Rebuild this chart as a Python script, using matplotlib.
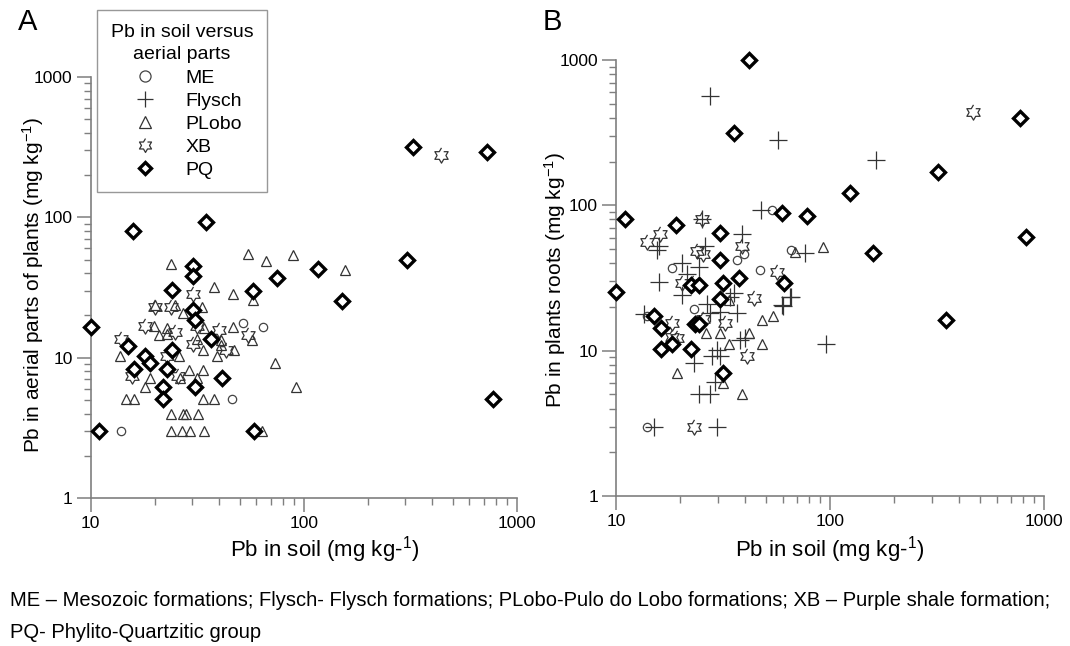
import matplotlib
matplotlib.use("Agg")
import matplotlib.pyplot as plt
from matplotlib.lines import Line2D
import numpy as np

plt.rcParams["font.family"] = ["Liberation Sans", "DejaVu Sans"]
plt.rcParams["mathtext.default"] = "regular"

# ---- Panel A: Pb in soil vs aerial parts ----
me_a_soil = [13.9, 45.9, 51.8, 64.1]
me_a_pb = [3.0, 5.1, 17.6, 16.5]

plobo_a_soil = [13.7, 14.7, 16.0, 18.0, 19.0, 19.9, 20.0, 21.0, 22.7, 22.7, 23.9, 23.9,
                23.9, 24.9, 26.0, 26.3, 26.7, 27.0, 27.2, 28.0, 29.0, 29.3, 31.4, 31.4,
                31.8, 33.2, 33.8, 33.8, 33.8, 34.1, 34.1, 37.9, 37.9, 39.0, 40.7, 40.9,
                46.7, 46.7, 47.2, 54.9, 56.9, 57.6, 63.5, 66.4, 73.4, 89.2, 92.0, 156.0]
plobo_a_pb = [10.2, 5.1, 5.1, 6.2, 7.2, 16.7, 23.9, 14.4, 16.3, 14.8, 46.5, 4.0,
              3.0, 23.9, 10.2, 7.2, 3.0, 20.8, 4.0, 4.0, 8.2, 3.0, 13.6, 7.2,
              4.0, 22.9, 8.2, 5.1, 11.4, 16.3, 3.0, 32.0, 5.1, 10.2, 12.4, 13.3,
              28.2, 16.5, 11.4, 55.0, 13.3, 25.8, 3.0, 49.0, 9.2, 54.0, 6.2, 41.8]

xb_a_soil = [13.9, 15.7, 18.0, 20.0, 22.9, 23.9, 24.9, 25.8, 30.1, 30.3, 31.4, 40.1,
             43.0, 54.9, 440.0]
xb_a_pb = [13.6, 7.4, 16.7, 22.9, 10.2, 22.9, 15.2, 7.4, 28.5, 12.6, 16.7, 15.8,
           11.4, 14.6, 280.0]

pq_a_soil = [10.0, 10.9, 15.8, 15.0, 16.0, 18.0, 19.0, 21.9, 21.9, 22.9, 24.2, 24.2,
             30.1, 30.1, 30.1, 30.9, 30.9, 34.8, 36.6, 41.2, 57.6, 58.6, 75.0, 117.0,
             152.0, 304.0, 327.0, 723.0, 777.0]
pq_a_pb = [16.5, 3.0, 80.0, 12.2, 8.3, 10.2, 9.2, 6.2, 5.1, 8.3, 30.4, 11.4,
           45.0, 38.5, 21.7, 18.6, 6.2, 92.0, 13.6, 7.2, 30.0, 3.0, 37.0, 43.0,
           25.5, 50.0, 315.0, 290.0, 5.1]

# ---- Panel B: Pb in soil vs roots ----
me_b_soil = [13.9, 13.9, 18.2, 23.2, 36.6, 39.8, 47.0, 53.4, 66.0]
me_b_pb = [3.0, 17.3, 37.0, 19.2, 42.0, 46.0, 36.0, 93.0, 49.6]

fly_b_soil = [13.5, 15.0, 15.5, 15.8, 15.9, 20.3, 20.3, 21.4, 23.2, 24.5, 24.5, 25.3,
              26.0, 26.5, 27.5, 27.5, 27.5, 28.0, 29.0, 29.5, 29.5, 30.6, 30.6, 34.0,
              35.5, 36.6, 38.0, 39.0, 40.0, 47.8, 56.9, 59.5, 60.4, 64.9, 66.0, 76.3,
              95.8, 163.5]
fly_b_pb = [17.8, 3.0, 49.0, 29.6, 52.8, 39.8, 24.0, 33.9, 8.2, 5.05, 37.9, 80.0,
            52.8, 21.1, 5.05, 18.1, 561.0, 9.2, 6.1, 10.1, 3.0, 9.2, 18.5, 23.4,
            24.8, 18.1, 11.9, 63.0, 12.2, 93.0, 282.0, 20.6, 20.2, 23.4, 23.3, 47.0,
            11.2, 205.0]

plobo_b_soil = [19.2, 26.3, 30.6, 31.5, 33.8, 33.8, 38.9, 41.9, 47.9, 47.9, 54.4, 68.6, 93.0]
plobo_b_pb = [7.07, 13.3, 13.3, 6.0, 11.1, 22.3, 5.05, 13.3, 16.2, 11.1, 17.3, 47.5, 52.0]

xb_b_soil = [14.0, 16.0, 18.2, 18.2, 19.2, 20.3, 23.0, 23.2, 24.0, 25.3, 25.4, 25.6,
             32.3, 39.0, 41.1, 44.3, 56.5, 468.0]
xb_b_pb = [56.0, 63.0, 15.6, 12.4, 12.3, 29.3, 29.3, 3.0, 48.3, 80.0, 46.5, 16.6,
           15.4, 52.8, 9.2, 22.9, 35.0, 437.0]

pq_b_soil = [10.0, 10.96, 15.0, 16.2, 16.2, 18.3, 19.1, 22.3, 22.3, 23.4, 24.5, 24.5,
             30.6, 30.6, 30.6, 31.5, 31.5, 35.5, 37.7, 41.8, 59.5, 61.2, 78.2, 124.4,
             158.0, 320.0, 347.0, 773.0, 825.0]
pq_b_pb = [25.4, 80.0, 17.3, 14.3, 10.2, 11.2, 73.0, 10.2, 28.2, 15.2, 15.2, 28.2,
           65.0, 42.0, 22.5, 29.3, 7.07, 317.0, 31.4, 1000.0, 88.0, 29.4, 84.0, 122.0,
           47.0, 170.0, 16.2, 397.0, 61.0]

group_names = ["ME", "Flysch", "PLobo", "XB", "PQ"]

# hexagram (star of David) outline used for XB
ang = np.deg2rad(90 + 30 * np.arange(12))
rad = np.where(np.arange(12) % 2 == 0, 1.0, 1 / np.sqrt(3))
hexagram = list(zip(rad * np.cos(ang), rad * np.sin(ang)))

styles = {
    "ME": dict(marker="o", ms=6, mfc="none", mec="#444444", mew=0.9),
    "Flysch": dict(marker="+", ms=13, mec="#333333", mew=0.9),
    "PLobo": dict(marker="^", ms=7, mfc="none", mec="#333333", mew=0.9),
    "XB": dict(marker=hexagram, ms=11, mfc="none", mec="#333333", mew=0.9),
    "PQ": dict(marker="D", ms=7.5, mfc="white", mec="black", mew=2.4),
}
# legend keys are drawn a little larger than the plotted marks
legend_ms = {"ME": 8, "Flysch": 11, "PLobo": 8.5, "XB": 10, "PQ": 6.5}

GRAY = "#7f7f7f"


def style_axes(ax):
    ax.set_xscale("log")
    ax.set_yscale("log")
    ax.set_xlim(10, 1000)
    ax.set_ylim(1, 1000)
    for side in ("top", "right"):
        ax.spines[side].set_visible(False)
    for side in ("left", "bottom"):
        ax.spines[side].set_color(GRAY)
        ax.spines[side].set_linewidth(1.2)
    ax.tick_params(which="major", length=10, width=1.1, color=GRAY, labelsize=12.5, pad=3)
    ax.tick_params(which="minor", length=5, width=1.0, color=GRAY)
    ax.set_xticks([10, 100, 1000])
    ax.set_xticklabels(["10", "100", "1000"])
    ax.set_yticks([1, 10, 100, 1000])
    ax.set_yticklabels(["1", "10", "100", "1000"])
    ax.set_facecolor("none")


fig = plt.figure(figsize=(10.7, 6.46), dpi=100)
axA = fig.add_axes([90.7 / 1070, 1 - 498 / 646, 426 / 1070, (498 - 77) / 646])
axB = fig.add_axes([616 / 1070, 1 - 496 / 646, 428 / 1070, (496 - 60) / 646])

for ax in (axA, axB):
    style_axes(ax)

# panel A
axA.plot(me_a_soil, me_a_pb, ls="none", zorder=3, clip_on=False, **styles["ME"])
axA.plot(plobo_a_soil, plobo_a_pb, ls="none", zorder=3, clip_on=False, **styles["PLobo"])
axA.plot(xb_a_soil, xb_a_pb, ls="none", zorder=4, clip_on=False, **styles["XB"])
axA.plot(pq_a_soil, pq_a_pb, ls="none", zorder=5, clip_on=False, **styles["PQ"])

# panel B
axB.plot(me_b_soil, me_b_pb, ls="none", zorder=3, clip_on=False, **styles["ME"])
axB.plot(fly_b_soil, fly_b_pb, ls="none", zorder=3, clip_on=False, **styles["Flysch"])
axB.plot(plobo_b_soil, plobo_b_pb, ls="none", zorder=3, clip_on=False, **styles["PLobo"])
axB.plot(xb_b_soil, xb_b_pb, ls="none", zorder=4, clip_on=False, **styles["XB"])
axB.plot(pq_b_soil, pq_b_pb, ls="none", zorder=5, clip_on=False, **styles["PQ"])

# legend
handles = []
for name in group_names:
    st = dict(styles[name])
    st["ms"] = legend_ms[name]
    handles.append(Line2D([], [], ls="none", **st))
leg = fig.legend(handles, group_names, title="Pb in soil versus\naerial parts",
                 loc="upper left", bbox_to_anchor=(97 / 1070, 1 - 10 / 646),
                 bbox_transform=fig.transFigure, fontsize=14, title_fontsize=14,
                 frameon=True, fancybox=False, edgecolor=GRAY, borderpad=0.7,
                 labelspacing=0.28, handletextpad=0.85, handlelength=2.4,
                 borderaxespad=0)
leg.get_frame().set_linewidth(1.0)
leg.get_title().set_multialignment("center")
leg.get_title().set_linespacing(1.45)

# texts
fig.text(18 / 1070, 1 - 22 / 646, "A", fontsize=21, ha="left", va="center")
fig.text(543 / 1070, 1 - 22 / 646, "B", fontsize=21, ha="left", va="center")

fig.text(33 / 1070, 1 - 285 / 646, "Pb in aerial parts of plants (mg kg$^{-1}$)",
         rotation=90, ha="center", va="center", fontsize=15)
fig.text(555 / 1070, 1 - 280 / 646, "Pb in plants roots (mg kg$^{-1}$)",
         rotation=90, ha="center", va="center", fontsize=15)
fig.text(325 / 1070, 1 - 550 / 646, "Pb in soil (mg kg-$^{1}$)",
         ha="center", va="center", fontsize=16)
fig.text(830 / 1070, 1 - 550 / 646, "Pb in soil (mg kg-$^{1}$)",
         ha="center", va="center", fontsize=16)

fig.text(10 / 1070, 1 - 600 / 646,
         "ME \u2013 Mesozoic formations; Flysch- Flysch formations; PLobo-Pulo do Lobo "
         "formations; XB \u2013 Purple shale formation;",
         ha="left", va="center", fontsize=14.5)
fig.text(10 / 1070, 1 - 632 / 646, "PQ- Phylito-Quartzitic group",
         ha="left", va="center", fontsize=14.5)

fig.savefig("out.png", dpi=100)
